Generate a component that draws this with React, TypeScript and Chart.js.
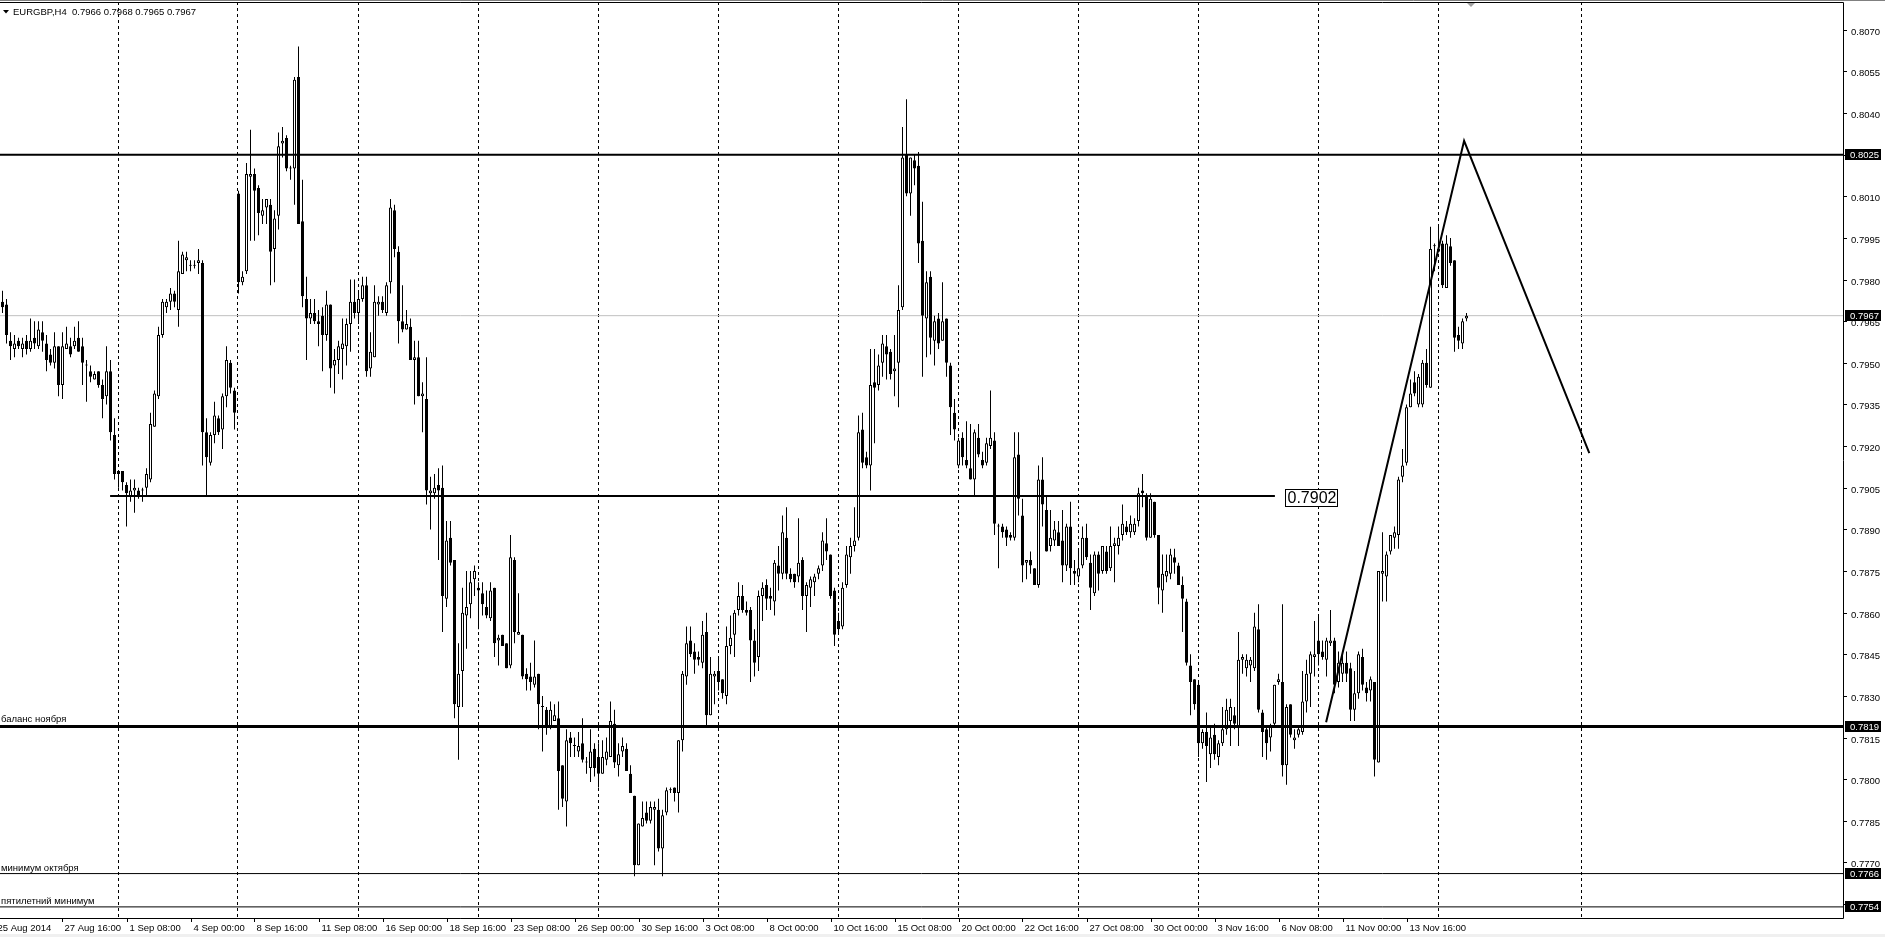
import React, { useEffect, useRef } from 'react';
import { Chart, registerables } from 'chart.js';
Chart.register(...registerables);

const W = 1885;
const H = 937;
const SYMBOL = 'EURGBP,H4';

// OHLC in 1/10000 units
const OPEN = [
7972,7971,7958,7955,7958,7955,7958,7955,7959,7956,
7961,7957,7953,7950,7956,7942,7955,7956,7956,7959,
7956,7949,7947,7944,7947,7942,7938,7947,7924,7911,
7911,7906,7902,7904,7904,7904,7905,7908,7927,7938,
7960,7970,7972,7975,7969,7982,7987,7985,7985,7986,
7986,7925,7914,7924,7930,7926,7938,7950,7940,8011,
7979,7983,8017,8018,8013,8003,8006,8007,7991,8003,
8029,8031,8020,8020,8053,8001,7973,7966,7968,7965,
7967,7960,7971,7949,7951,7955,7956,7964,7972,7968,
7973,7978,7948,7952,7971,7972,7968,7979,8005,7990,
7965,7962,7963,7951,7952,7938,7937,7903,7903,7906,
7905,7865,7887,7879,7826,7839,7859,7863,7872,7869,
7867,7862,7858,7869,7850,7852,7849,7841,7879,7852,
7852,7838,7837,7834,7838,7826,7825,7819,7821,7822,
7805,7792,7815,7812,7810,7813,7806,7804,7811,7808,
7802,7807,7808,7820,7805,7810,7811,7802,7794,7769,
7783,7788,7785,7789,7789,7775,7788,7796,7797,7795,
7814,7837,7850,7846,7844,7842,7853,7823,7837,7839,
7836,7830,7848,7852,7861,7866,7861,7861,7850,7844,
7866,7870,7866,7864,7877,7874,7887,7874,7874,7873,
7879,7866,7869,7871,7874,7877,7885,7881,7868,7857,
7855,7870,7880,7884,7887,7926,7916,7913,7943,7942,
7950,7956,7954,7947,7950,7970,8025,8011,8023,8021,
7994,7966,7981,7958,7966,7958,7966,7949,7932,7913,
7923,7915,7912,7908,7923,7915,7914,7920,7922,7891,
7891,7890,7888,7887,7917,7895,7878,7879,7876,7870,
7908,7897,7884,7886,7889,7886,7877,7891,7875,7873,
7877,7887,7878,7867,7881,7875,7882,7876,7884,7884,
7888,7891,7889,7889,7893,7904,7902,7887,7900,7888,
7868,7873,7874,7880,7877,7870,7864,7841,7836,7834,
7813,7817,7809,7816,7808,7813,7818,7821,7823,7819,
7843,7840,7841,7840,7854,7824,7818,7815,7820,7835,
7835,7805,7827,7814,7816,7817,7828,7838,7844,7850,
7846,7843,7849,7850,7835,7838,7842,7840,7825,7831,
7844,7833,7832,7835,7806,7874,7873,7882,7887,7888,
7909,7914,7934,7943,7935,7935,7950,7941,7992,7991,
7993,7977,7992,7987,7960,7957,7966,
];
const HIGH = [
7976,7973,7961,7960,7959,7959,7960,7966,7965,7965,
7965,7960,7955,7961,7956,7961,7963,7959,7963,7965,
7959,7951,7949,7947,7947,7944,7956,7951,7930,7911,
7911,7907,7908,7908,7905,7905,7912,7932,7940,7963,
7973,7973,7977,7976,7994,7990,7990,7987,7987,7991,
7987,7930,7925,7936,7931,7939,7956,7951,7941,8012,
7983,8022,8034,8020,8014,8009,8009,8009,8005,8033,
8035,8032,8021,8053,8064,8016,7981,7973,7973,7969,
7970,7976,7971,7955,7958,7966,7966,7980,7980,7976,
7981,7981,7961,7978,7974,7974,7979,8009,8007,7992,
7978,7969,7966,7958,7958,7943,7952,7909,7910,7912,
7913,7893,7893,7879,7849,7869,7875,7875,7877,7871,
7871,7868,7871,7869,7852,7852,7849,7888,7880,7867,
7852,7840,7842,7850,7838,7830,7826,7828,7827,7828,
7805,7818,7817,7815,7817,7822,7808,7818,7813,7813,
7814,7815,7828,7825,7813,7815,7813,7805,7794,7784,
7792,7792,7792,7792,7793,7789,7797,7797,7797,7814,
7839,7855,7855,7849,7846,7857,7860,7844,7839,7844,
7836,7855,7859,7861,7871,7870,7864,7862,7854,7868,
7871,7872,7869,7879,7884,7895,7898,7876,7874,7894,
7880,7871,7873,7874,7877,7889,7894,7881,7869,7860,
7871,7884,7887,7898,7931,7932,7918,7955,7955,7953,
7960,7960,7955,7960,7978,8035,8045,8024,8025,8026,
8008,7983,7983,7967,7968,7979,7966,7950,7937,7923,
7925,7929,7928,7926,7928,7918,7923,7940,7925,7892,
7892,7891,7889,7925,7925,7901,7879,7882,7876,7913,
7916,7902,7897,7893,7893,7897,7892,7900,7879,7883,
7891,7892,7881,7882,7882,7884,7884,7891,7887,7891,
7899,7893,7895,7894,7905,7910,7903,7903,7900,7888,
7881,7881,7883,7883,7878,7873,7865,7845,7836,7835,
7818,7824,7819,7820,7814,7826,7829,7829,7826,7853,
7845,7845,7844,7860,7863,7825,7819,7820,7834,7838,
7863,7827,7827,7818,7819,7839,7843,7846,7857,7859,
7850,7851,7861,7851,7846,7845,7846,7842,7839,7846,
7847,7835,7837,7835,7875,7889,7882,7888,7891,7909,
7919,7935,7944,7947,7946,7951,7955,7999,7993,7999,
7994,7996,7995,7987,7963,7966,7968,
];
const LOW = [
7968,7957,7951,7952,7955,7952,7953,7954,7955,7955,
7954,7947,7949,7948,7938,7937,7955,7952,7955,7954,
7942,7936,7943,7944,7941,7930,7935,7922,7908,7905,
7904,7891,7900,7896,7901,7900,7902,7907,7927,7937,
7959,7968,7969,7970,7963,7982,7983,7983,7984,7982,
7913,7902,7913,7921,7924,7919,7934,7939,7926,7975,
7978,7982,7994,7994,7996,8000,8000,7978,7979,7998,
8024,8019,8016,8007,8000,7970,7951,7964,7964,7956,
7947,7958,7941,7939,7946,7944,7949,7954,7966,7964,
7972,7945,7945,7952,7967,7968,7967,7975,7988,7957,
7961,7962,7951,7935,7938,7925,7899,7890,7901,7879,
7853,7862,7877,7822,7807,7826,7847,7858,7866,7854,
7859,7858,7857,7844,7841,7848,7840,7840,7849,7852,
7836,7832,7832,7833,7818,7810,7816,7818,7821,7789,
7790,7783,7808,7808,7808,7806,7802,7799,7801,7797,
7802,7805,7808,7804,7801,7808,7803,7795,7765,7769,
7783,7784,7784,7769,7774,7765,7787,7795,7792,7788,
7810,7834,7844,7838,7841,7840,7819,7823,7827,7832,
7829,7827,7845,7844,7859,7860,7859,7835,7837,7839,
7857,7861,7861,7859,7868,7872,7872,7871,7869,7871,
7861,7853,7862,7866,7872,7875,7879,7865,7848,7852,
7854,7869,7874,7882,7886,7912,7912,7904,7921,7940,
7945,7944,7944,7938,7934,7969,8010,8003,8014,7986,
7945,7952,7953,7949,7955,7958,7945,7924,7922,7912,
7913,7912,7908,7902,7916,7912,7913,7919,7888,7876,
7887,7884,7886,7886,7895,7871,7872,7874,7870,7869,
7891,7882,7882,7884,7884,7871,7875,7870,7870,7871,
7876,7879,7861,7866,7868,7874,7874,7875,7871,7881,
7886,7888,7887,7888,7891,7898,7886,7887,7887,7863,
7860,7871,7872,7874,7870,7853,7841,7823,7825,7808,
7811,7799,7804,7807,7805,7812,7816,7812,7818,7812,
7838,7837,7835,7839,7824,7808,7807,7810,7819,7834,
7801,7798,7815,7811,7815,7816,7824,7826,7837,7841,
7843,7837,7848,7831,7833,7835,7835,7821,7821,7829,
7832,7828,7828,7801,7806,7864,7864,7881,7883,7883,
7907,7913,7934,7938,7934,7934,7941,7941,7983,7990,
7977,7977,7985,7954,7955,7955,7965,
];
const CLOSE = [
7970,7960,7956,7957,7956,7957,7955,7958,7957,7962,
7958,7951,7950,7956,7942,7956,7957,7953,7958,7954,
7950,7949,7945,7946,7942,7937,7947,7925,7910,7910,
7907,7903,7904,7905,7902,7904,7910,7928,7939,7960,
7972,7972,7975,7972,7983,7989,7988,7985,7985,7987,
7925,7916,7924,7931,7925,7938,7951,7941,7932,7979,
7981,8018,8018,8012,8004,8005,8009,7990,8002,8028,
8030,8020,8020,8052,8000,7974,7966,7968,7965,7964,
7960,7971,7948,7951,7956,7957,7964,7972,7968,7973,
7978,7947,7954,7972,7972,7969,7978,8006,7991,7965,
7962,7964,7951,7952,7938,7939,7904,7904,7905,7904,
7866,7886,7878,7827,7838,7860,7862,7871,7875,7868,
7863,7859,7868,7849,7851,7848,7840,7880,7853,7853,
7837,7836,7835,7837,7827,7826,7819,7825,7823,7803,
7793,7814,7813,7812,7812,7807,7806,7810,7804,7802,
7808,7810,7821,7806,7809,7812,7803,7795,7769,7784,
7786,7785,7790,7790,7775,7787,7796,7796,7795,7814,
7838,7849,7845,7843,7843,7852,7823,7838,7838,7835,
7831,7848,7851,7860,7866,7861,7860,7850,7842,7866,
7869,7865,7865,7878,7874,7889,7874,7872,7871,7878,
7866,7870,7872,7873,7876,7886,7882,7866,7852,7854,
7869,7881,7884,7886,7925,7914,7913,7942,7941,7949,
7957,7953,7946,7948,7969,8024,8011,8024,8020,7993,
7967,7979,7959,7965,7957,7965,7950,7934,7926,7922,
7916,7913,7908,7925,7917,7913,7921,7923,7892,7891,
7889,7887,7887,7916,7901,7877,7879,7877,7870,7908,
7899,7882,7887,7890,7884,7877,7891,7876,7874,7876,
7887,7880,7869,7881,7874,7884,7875,7884,7885,7887,
7892,7889,7892,7892,7903,7903,7887,7901,7888,7869,
7874,7875,7881,7878,7870,7865,7842,7835,7827,7813,
7817,7812,7815,7809,7813,7818,7825,7826,7820,7843,
7844,7843,7843,7855,7825,7817,7813,7819,7834,7836,
7805,7826,7816,7815,7818,7828,7838,7845,7845,7845,
7844,7850,7850,7834,7842,7842,7838,7825,7831,7845,
7834,7831,7836,7807,7875,7875,7881,7888,7889,7908,
7913,7934,7939,7939,7945,7950,7942,7991,7992,7990,
7978,7993,7986,7959,7958,7965,7967,
];

const PRICE_TICKS = [0.8070, 0.8055, 0.8040, 0.8025, 0.8010, 0.7995, 0.7980, 0.7965, 0.7950, 0.7935, 0.7920,
  0.7905, 0.7890, 0.7875, 0.7860, 0.7845, 0.7830, 0.7815, 0.7800, 0.7785, 0.7770, 0.7755];

const X_LABELS = ['25 Aug 2014', '27 Aug 16:00', '1 Sep 08:00', '4 Sep 00:00', '8 Sep 16:00', '11 Sep 08:00',
  '16 Sep 00:00', '18 Sep 16:00', '23 Sep 08:00', '26 Sep 00:00', '30 Sep 16:00', '3 Oct 08:00', '8 Oct 00:00',
  '10 Oct 16:00', '15 Oct 08:00', '20 Oct 00:00', '22 Oct 16:00', '27 Oct 08:00', '30 Oct 00:00', '3 Nov 16:00',
  '6 Nov 08:00', '11 Nov 00:00', '13 Nov 16:00'];
const X_LABEL_BARS = [-2, 15, 31, 47, 63, 79, 95, 111, 127, 143, 159, 175, 191, 207, 223, 239, 255, 271, 287, 303, 319, 335, 351];

const GRID_BARS = [28.875, 58.875, 88.875, 118.875, 148.875, 178.875, 208.875, 238.875, 268.875, 298.875, 328.875, 358.875, 394.625];

const BID = 0.7967;
const LEVEL_PRICES = [0.8025, 0.7819, 0.7766, 0.7754];
const LEVEL_NAMES = ['', 'баланс ноября', 'минимум октября', 'пятилетний минимум'];
const AXIS_BOXES = [0.8025, 0.7967, 0.7819, 0.7766, 0.7754];

const SUPPORT_PRICE = 0.7902;
const SUPPORT_FROM = 26.9;
const SUPPORT_TO = 318.1;

const TREND_BARS = [330.9, 365.4, 396.7];
const TREND_PRICES = [0.78205, 0.8030, 0.79175];

const X_MIN = -0.625;
const X_MAX = 460.125;
const Y_MIN = 0.7750;
const Y_MAX = 0.8080;
const PIP = 10000;

const FONT = "9.5px 'Liberation Sans', Arial, sans-serif";
const LEVEL_STYLE_WIDTH = [2, 3, 1, 1];

export default function App() {
  const ref = useRef<HTMLCanvasElement | null>(null);

  useEffect(() => {
    const canvas = ref.current;
    if (!canvas) return;
    const bars = OPEN.map((_, i) => i);
    const wickData = bars.map((i) => ({ x: i, y: [LOW[i] / PIP, HIGH[i] / PIP] }));
    const bodyData = bars.map((i) => ({ x: i, y: [OPEN[i] / PIP, CLOSE[i] / PIP] }));
    const bodyFill = bars.map((i) => (CLOSE[i] >= OPEN[i] ? '#ffffff' : '#000000'));
    const fullLine = (p: number) => [{ x: X_MIN, y: p }, { x: X_MAX, y: p }];
    const last = OPEN.length - 1;

    const decor = {
      id: 'decor',
      beforeDraw(chart: any) {
        const ctx = chart.ctx;
        ctx.save();
        ctx.fillStyle = '#ffffff';
        ctx.fillRect(0, 0, W, H);
        ctx.fillStyle = '#f0f0f0';
        ctx.fillRect(0, 934, W, 3);
        ctx.restore();
      },
      beforeDatasetsDraw(chart: any) {
        const ctx = chart.ctx;
        const xs = chart.scales.x;
        const area = chart.chartArea;
        ctx.save();
        ctx.strokeStyle = '#000000';
        ctx.lineWidth = 1;
        ctx.setLineDash([3, 3]);
        GRID_BARS.forEach((b) => {
          const px = Math.floor(xs.getPixelForValue(b)) + 0.5;
          ctx.beginPath();
          ctx.moveTo(px, area.top);
          ctx.lineTo(px, area.bottom);
          ctx.stroke();
        });
        ctx.restore();
      },
      afterDatasetsDraw(chart: any) {
        const ctx = chart.ctx;
        const xs = chart.scales.x;
        const ys = chart.scales.y;
        const area = chart.chartArea;
        ctx.save();
        // frame
        ctx.strokeStyle = '#808080';
        ctx.lineWidth = 1;
        ctx.beginPath();
        ctx.moveTo(0, 0.5);
        ctx.lineTo(W, 0.5);
        ctx.stroke();
        ctx.strokeStyle = '#000000';
        ctx.beginPath();
        ctx.moveTo(0, area.top + 0.5);
        ctx.lineTo(area.right + 0.5, area.top + 0.5);
        ctx.lineTo(area.right + 0.5, area.bottom + 0.5);
        ctx.lineTo(0, area.bottom + 0.5);
        ctx.stroke();

        // price axis
        ctx.font = FONT;
        ctx.fillStyle = '#000000';
        ctx.textAlign = 'left';
        ctx.textBaseline = 'middle';
        PRICE_TICKS.forEach((p) => {
          const py = Math.round(ys.getPixelForValue(p)) + 0.5;
          ctx.beginPath();
          ctx.moveTo(area.right, py);
          ctx.lineTo(area.right + 4, py);
          ctx.stroke();
          ctx.fillText(p.toFixed(4), area.right + 8, py + 2);
        });
        AXIS_BOXES.forEach((p) => {
          const py = ys.getPixelForValue(p);
          ctx.fillStyle = '#000000';
          ctx.fillRect(area.right + 2, Math.round(py - 5.5), 36, 11);
          ctx.fillStyle = '#ffffff';
          ctx.fillText(p.toFixed(4), area.right + 7, py + 0.5);
        });

        // time axis
        ctx.fillStyle = '#000000';
        ctx.textBaseline = 'alphabetic';
        X_LABEL_BARS.forEach((b, k) => {
          const px = Math.round(xs.getPixelForValue(b)) + 0.5;
          ctx.beginPath();
          ctx.moveTo(px, area.bottom);
          ctx.lineTo(px, area.bottom + 4);
          ctx.stroke();
          ctx.fillText(X_LABELS[k], px + 2, area.bottom + 13);
        });

        // header
        ctx.beginPath();
        ctx.moveTo(3, 10);
        ctx.lineTo(9, 10);
        ctx.lineTo(6, 13.5);
        ctx.closePath();
        ctx.fill();
        const hdr = `${SYMBOL}  ${(OPEN[last] / PIP).toFixed(4)} ${(HIGH[last] / PIP).toFixed(4)} ${(LOW[last] / PIP).toFixed(4)} ${(CLOSE[last] / PIP).toFixed(4)}`;
        ctx.fillText(hdr, 13, 15);

        // shift marker
        ctx.fillStyle = '#a0a0a0';
        ctx.beginPath();
        ctx.moveTo(1467, 3);
        ctx.lineTo(1475, 3);
        ctx.lineTo(1471, 7);
        ctx.closePath();
        ctx.fill();

        // level names
        ctx.fillStyle = '#000000';
        LEVEL_PRICES.forEach((p, k) => {
          if (!LEVEL_NAMES[k]) return;
          const py = ys.getPixelForValue(p);
          ctx.fillText(LEVEL_NAMES[k], 1, py - (LEVEL_STYLE_WIDTH[k] > 1 ? 4 : 3));
        });

        // support label box
        const sx = xs.getPixelForValue(SUPPORT_TO);
        const sy = ys.getPixelForValue(SUPPORT_PRICE);
        const bx = Math.round(sx + 10) + 0.5;
        const by = Math.round(sy - 7) + 0.5;
        ctx.fillStyle = '#ffffff';
        ctx.fillRect(bx, by, 52, 17);
        ctx.strokeStyle = '#000000';
        ctx.strokeRect(bx, by, 52, 17);
        ctx.fillStyle = '#000000';
        ctx.font = "16px 'Liberation Sans', Arial, sans-serif";
        ctx.textBaseline = 'middle';
        ctx.fillText(SUPPORT_PRICE.toFixed(4), bx + 2, by + 9);
        ctx.restore();
      },
    };

    const chart = new Chart(canvas, {
      type: 'bar',
      data: {
        datasets: [
          { type: 'line', data: fullLine(BID), borderColor: '#c0c0c0', borderWidth: 1, pointRadius: 0, order: 100 } as any,
          {
            type: 'bar', data: wickData as any, backgroundColor: '#000000', borderWidth: 0,
            barThickness: 1, grouped: false, inflateAmount: 0, order: 50,
          } as any,
          {
            type: 'bar', data: bodyData as any, backgroundColor: bodyFill, borderColor: '#000000', borderWidth: 1,
            borderSkipped: false, barThickness: 3, grouped: false, inflateAmount: 0, minBarLength: 1, order: 40,
          } as any,
          ...LEVEL_PRICES.map((p, k) => ({
            type: 'line', data: fullLine(p), borderColor: '#000000', borderWidth: LEVEL_STYLE_WIDTH[k], pointRadius: 0, order: 10,
          } as any)),
          {
            type: 'line', data: [{ x: SUPPORT_FROM, y: SUPPORT_PRICE }, { x: SUPPORT_TO, y: SUPPORT_PRICE }],
            borderColor: '#000000', borderWidth: 2, pointRadius: 0, order: 9,
          } as any,
          {
            type: 'line', data: TREND_BARS.map((b, k) => ({ x: b, y: TREND_PRICES[k] })),
            borderColor: '#000000', borderWidth: 2, pointRadius: 0, tension: 0, order: 8,
          } as any,
        ],
      },
      options: {
        responsive: false,
        animation: false,
        devicePixelRatio: 1,
        events: [],
        layout: { padding: { left: 0, right: 42, top: 2, bottom: 19 } },
        scales: {
          x: { type: 'linear', min: X_MIN, max: X_MAX, display: false, offset: false },
          y: { type: 'linear', min: Y_MIN, max: Y_MAX, display: false },
        },
        plugins: { legend: { display: false }, tooltip: { enabled: false } },
      } as any,
      plugins: [decor as any],
    });
    return () => chart.destroy();
  }, []);

  return (
    <div style={{ position: 'fixed', left: 0, top: 0, width: W, height: H, background: '#ffffff' }}>
      <canvas ref={ref} width={W} height={H} style={{ display: 'block', width: W, height: H }} />
    </div>
  );
}
